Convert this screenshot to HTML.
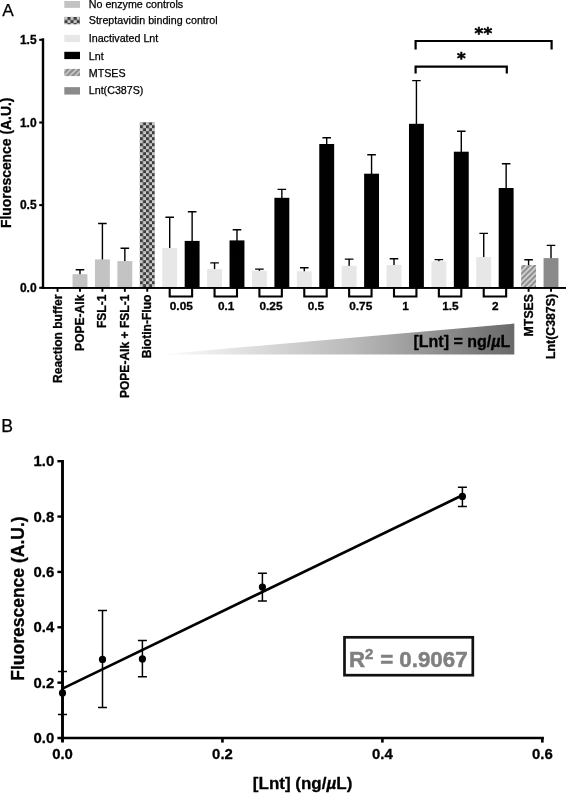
<!DOCTYPE html>
<html lang="en"><head><meta charset="utf-8"><title>Figure</title>
<style>
html,body{margin:0;padding:0;background:#fff;}
body{width:566px;height:794px;overflow:hidden;}
svg{display:block;font-family:"Liberation Sans", Arial, Helvetica, sans-serif;will-change:transform;opacity:0.999;}
.b{font-weight:bold;stroke:#000;stroke-width:0.3px;}
.g{stroke:#808080;stroke-width:0.5px;}
.r{stroke:#000;stroke-width:0.25px;}
</style></head><body>
<svg width="566" height="794" viewBox="0 0 566 794">
<defs>
<pattern id="chk" patternUnits="userSpaceOnUse" x="139.9" y="122.2" width="6.08" height="6">
<rect width="6.08" height="6" fill="#c9c9c9"/>
<rect x="3.04" y="0" width="3.04" height="3" fill="#3c3c3c"/>
<rect x="0" y="3" width="3.04" height="3" fill="#3c3c3c"/>
</pattern>
<pattern id="chk2" patternUnits="userSpaceOnUse" x="64.3" y="16.9" width="6.2" height="6.2">
<rect width="6.2" height="6.2" fill="#c9c9c9"/>
<rect x="3.1" y="0" width="3.1" height="3.1" fill="#3c3c3c"/>
<rect x="0" y="3.1" width="3.1" height="3.1" fill="#3c3c3c"/>
</pattern>
<pattern id="hat" patternUnits="userSpaceOnUse" x="520.9" y="266.1" width="5.4" height="5.4">
<rect width="5.4" height="5.4" fill="#8e8e8e"/>
<path d="M-1.35,1.35 L1.35,-1.35 M0,5.4 L5.4,0 M4.05,6.75 L6.75,4.05" stroke="#dcdcdc" stroke-width="1.5"/>
</pattern>
<pattern id="hat2" patternUnits="userSpaceOnUse" x="65.6" y="69" width="5.5" height="5.5">
<rect width="5.5" height="5.5" fill="#8e8e8e"/>
<path d="M-1.375,1.375 L1.375,-1.375 M0,5.5 L5.5,0 M4.125,6.875 L6.875,4.125" stroke="#dcdcdc" stroke-width="1.2"/>
</pattern>
<linearGradient id="wg" x1="0" y1="0" x2="1" y2="0">
<stop offset="0" stop-color="#ffffff"/>
<stop offset="0.55" stop-color="#b9b9b9"/>
<stop offset="1" stop-color="#696969"/>
</linearGradient>
</defs>
<rect width="566" height="794" fill="#fff"/>

<text class="r" x="2.25" y="15.55" font-size="17.3">A</text>
<rect x="64.3" y="1.0" width="15.7" height="6.85" fill="#c3c3c3"/>
<text class="r" x="88.75" y="8.0" font-size="10.7">No enzyme controls</text>
<rect x="64.3" y="16.9" width="15.7" height="7.4" fill="url(#chk2)"/>
<text class="r" x="88.75" y="24.2" font-size="10.7">Streptavidin binding control</text>
<rect x="64.3" y="34.9" width="15.7" height="7.2" fill="#e7e7e7"/>
<text class="r" x="88.75" y="42.0" font-size="10.7">Inactivated Lnt</text>
<rect x="64.3" y="51.8" width="15.7" height="7.3" fill="#000"/>
<text class="r" x="88.75" y="59.5" font-size="10.7">Lnt</text>
<rect x="64.3" y="68.9" width="15.7" height="7.2" fill="url(#hat2)"/>
<text class="r" x="88.75" y="76.5" font-size="10.7">MTSES</text>
<rect x="64.3" y="87.15" width="15.7" height="7.4" fill="#8a8a8a"/>
<text class="r" x="88.75" y="93.9" font-size="10.7">Lnt(C387S)</text>
<path d="M43.0,38.3 V288.82000000000005" stroke="#000" stroke-width="2.4" fill="none"/>
<path d="M43.0,287.85 H566" stroke="#000" stroke-width="1.95" fill="none"/>
<path d="M39.2,39.8 H43.0" stroke="#000" stroke-width="2.1"/>
<text class="b" x="36.6" y="43.85" font-size="12" text-anchor="end">1.5</text>
<path d="M39.2,122.5 H43.0" stroke="#000" stroke-width="2.1"/>
<text class="b" x="36.6" y="126.55" font-size="12" text-anchor="end">1.0</text>
<path d="M39.2,205.1 H43.0" stroke="#000" stroke-width="2.1"/>
<text class="b" x="36.6" y="209.15" font-size="12" text-anchor="end">0.5</text>
<path d="M39.2,287.8 H43.0" stroke="#000" stroke-width="2.1"/>
<text class="b" x="36.6" y="291.85" font-size="12" text-anchor="end">0.0</text>
<text class="b" transform="translate(10.5,162.8) rotate(-90)" font-size="13.9" text-anchor="middle">Fluorescence (A.U.)</text>
<path d="M79.98,274.7 V269.7 M75.68,269.7 H84.28" stroke="#000" stroke-width="1.4" fill="none"/>
<rect x="72.53" y="274.2" width="14.9" height="13.65" fill="#c3c3c3"/>
<path d="M102.41,259.9 V223.5 M98.11,223.5 H106.71" stroke="#000" stroke-width="1.4" fill="none"/>
<rect x="94.96" y="259.4" width="14.9" height="28.45" fill="#c3c3c3"/>
<path d="M124.84,261.6 V248.2 M120.54,248.2 H129.14" stroke="#000" stroke-width="1.4" fill="none"/>
<rect x="117.39" y="261.1" width="14.9" height="26.75" fill="#c3c3c3"/>
<rect x="139.82" y="122.2" width="14.9" height="165.65" fill="url(#chk)"/>
<path d="M169.70,248.5 V217.2 M165.40,217.2 H174.00" stroke="#000" stroke-width="1.4" fill="none"/>
<rect x="162.25" y="248" width="14.9" height="39.85" fill="#e7e7e7"/>
<path d="M192.13,241.4 V211.7 M187.83,211.7 H196.43" stroke="#000" stroke-width="1.4" fill="none"/>
<rect x="184.68" y="240.9" width="14.9" height="46.95" fill="#000"/>
<path d="M214.56,269.6 V262.9 M210.26,262.9 H218.86" stroke="#000" stroke-width="1.4" fill="none"/>
<rect x="207.11" y="269.1" width="14.9" height="18.75" fill="#e7e7e7"/>
<path d="M236.99,240.9 V229.7 M232.69,229.7 H241.29" stroke="#000" stroke-width="1.4" fill="none"/>
<rect x="229.54" y="240.4" width="14.9" height="47.45" fill="#000"/>
<path d="M259.42,271.3 V269.1 M255.12,269.1 H263.72" stroke="#000" stroke-width="1.4" fill="none"/>
<rect x="251.97" y="270.8" width="14.9" height="17.05" fill="#e7e7e7"/>
<path d="M281.85,198.3 V189.4 M277.55,189.4 H286.15" stroke="#000" stroke-width="1.4" fill="none"/>
<rect x="274.40" y="197.8" width="14.9" height="90.05" fill="#000"/>
<path d="M304.28,271.8 V267.8 M299.98,267.8 H308.58" stroke="#000" stroke-width="1.4" fill="none"/>
<rect x="296.83" y="271.3" width="14.9" height="16.55" fill="#e7e7e7"/>
<path d="M326.71,144.5 V137.8 M322.41,137.8 H331.01" stroke="#000" stroke-width="1.4" fill="none"/>
<rect x="319.26" y="144" width="14.9" height="143.85" fill="#000"/>
<path d="M349.14,266.3 V259.1 M344.84,259.1 H353.44" stroke="#000" stroke-width="1.4" fill="none"/>
<rect x="341.69" y="265.8" width="14.9" height="22.05" fill="#e7e7e7"/>
<path d="M371.57,174.2 V154.7 M367.27,154.7 H375.87" stroke="#000" stroke-width="1.4" fill="none"/>
<rect x="364.12" y="173.7" width="14.9" height="114.15" fill="#000"/>
<path d="M394.00,265.5 V258.8 M389.70,258.8 H398.30" stroke="#000" stroke-width="1.4" fill="none"/>
<rect x="386.55" y="265" width="14.9" height="22.85" fill="#e7e7e7"/>
<path d="M416.43,124.3 V80.6 M412.13,80.6 H420.73" stroke="#000" stroke-width="1.4" fill="none"/>
<rect x="408.98" y="123.8" width="14.9" height="164.05" fill="#000"/>
<path d="M438.86,261.8 V259.6 M434.56,259.6 H443.16" stroke="#000" stroke-width="1.4" fill="none"/>
<rect x="431.41" y="261.3" width="14.9" height="26.55" fill="#e7e7e7"/>
<path d="M461.29,152.2 V131.2 M456.99,131.2 H465.59" stroke="#000" stroke-width="1.4" fill="none"/>
<rect x="453.84" y="151.7" width="14.9" height="136.15" fill="#000"/>
<path d="M483.72,257.6 V233.4 M479.42,233.4 H488.02" stroke="#000" stroke-width="1.4" fill="none"/>
<rect x="476.27" y="257.1" width="14.9" height="30.75" fill="#e7e7e7"/>
<path d="M506.15,188.5 V163.8 M501.85,163.8 H510.45" stroke="#000" stroke-width="1.4" fill="none"/>
<rect x="498.70" y="188" width="14.9" height="99.85" fill="#000"/>
<path d="M528.58,265.5 V259.8 M524.28,259.8 H532.88" stroke="#000" stroke-width="1.4" fill="none"/>
<rect x="521.13" y="265" width="14.9" height="22.85" fill="url(#hat)"/>
<path d="M551.01,258.6 V245.4 M546.71,245.4 H555.31" stroke="#000" stroke-width="1.4" fill="none"/>
<rect x="543.56" y="258.1" width="14.9" height="29.75" fill="#8a8a8a"/>
<path d="M41.8,287.85 H566" stroke="#000" stroke-width="1.95" fill="none"/>
<path d="M57.55,287.85 V291.8" stroke="#000" stroke-width="1.9"/>
<text class="b" transform="translate(61.55,294.65) rotate(-90)" font-size="12.05" text-anchor="end">Reaction buffer</text>
<path d="M79.98,287.85 V291.8" stroke="#000" stroke-width="1.9"/>
<text class="b" transform="translate(83.98,294.65) rotate(-90)" font-size="12.05" text-anchor="end">POPE-Alk</text>
<path d="M102.41,287.85 V291.8" stroke="#000" stroke-width="1.9"/>
<text class="b" transform="translate(106.41,294.65) rotate(-90)" font-size="12.05" text-anchor="end">FSL-1</text>
<path d="M124.84,287.85 V291.8" stroke="#000" stroke-width="1.9"/>
<text class="b" transform="translate(128.84,294.65) rotate(-90)" font-size="12.05" text-anchor="end">POPE-Alk + FSL-1</text>
<path d="M147.27,287.85 V291.8" stroke="#000" stroke-width="1.9"/>
<text class="b" transform="translate(151.27,294.65) rotate(-90)" font-size="12.05" text-anchor="end">Biotin-Fluo</text>
<path d="M528.58,287.85 V291.8" stroke="#000" stroke-width="1.9"/>
<text class="b" transform="translate(532.58,294.0) rotate(-90)" font-size="12.3" text-anchor="end">MTSES</text>
<path d="M551.01,287.85 V291.8" stroke="#000" stroke-width="1.9"/>
<text class="b" transform="translate(555.01,294.0) rotate(-90)" font-size="12.3" text-anchor="end">Lnt(C387S)</text>
<path d="M169.70,287.85 V296.5 H192.13 V287.85" stroke="#000" stroke-width="2.1" fill="none"/>
<text class="b" x="181.31" y="309.5" font-size="11.8" text-anchor="middle">0.05</text>
<path d="M214.56,287.85 V296.5 H236.99 V287.85" stroke="#000" stroke-width="2.1" fill="none"/>
<text class="b" x="226.17" y="309.5" font-size="11.8" text-anchor="middle">0.1</text>
<path d="M259.42,287.85 V296.5 H281.85 V287.85" stroke="#000" stroke-width="2.1" fill="none"/>
<text class="b" x="271.03" y="309.5" font-size="11.8" text-anchor="middle">0.25</text>
<path d="M304.28,287.85 V296.5 H326.71 V287.85" stroke="#000" stroke-width="2.1" fill="none"/>
<text class="b" x="315.89" y="309.5" font-size="11.8" text-anchor="middle">0.5</text>
<path d="M349.14,287.85 V296.5 H371.57 V287.85" stroke="#000" stroke-width="2.1" fill="none"/>
<text class="b" x="360.75" y="309.5" font-size="11.8" text-anchor="middle">0.75</text>
<path d="M394.00,287.85 V296.5 H416.43 V287.85" stroke="#000" stroke-width="2.1" fill="none"/>
<text class="b" x="405.62" y="309.5" font-size="11.8" text-anchor="middle">1</text>
<path d="M438.86,287.85 V296.5 H461.29 V287.85" stroke="#000" stroke-width="2.1" fill="none"/>
<text class="b" x="450.48" y="309.5" font-size="11.8" text-anchor="middle">1.5</text>
<path d="M483.72,287.85 V296.5 H506.15 V287.85" stroke="#000" stroke-width="2.1" fill="none"/>
<text class="b" x="495.34" y="309.5" font-size="11.8" text-anchor="middle">2</text>
<path d="M158,354.5 L514.3,323.6 L514.3,354.5 Z" fill="url(#wg)"/>
<text class="b" x="510.2" y="347.3" font-size="16" text-anchor="end">[Lnt] = ng/<tspan font-style="italic">µ</tspan>L</text>
<path d="M415.6,49.5 V41 H551.6 V49.5" stroke="#000" stroke-width="2.2" fill="none"/>
<path d="M415.6,73.5 V66.6 H506.8 V73.5" stroke="#000" stroke-width="2.2" fill="none"/>
<text class="b" x="483.5" y="39.4" font-size="16.6" text-anchor="middle" font-family="DejaVu Sans, sans-serif" style="stroke-width:0.6px" letter-spacing="0.2">**</text>
<text class="b" x="461.4" y="64.0" font-size="16.6" text-anchor="middle" font-family="DejaVu Sans, sans-serif" style="stroke-width:0.6px">*</text>
<text class="r" x="1.3" y="431.7" font-size="17.6">B</text>
<path d="M62.5,459.9 V742.6" stroke="#000" stroke-width="2.9" fill="none"/>
<path d="M57.4,738.0 H543.9" stroke="#000" stroke-width="2.6" fill="none"/>
<path d="M57.4,461.20 H62.5" stroke="#000" stroke-width="2.4"/>
<text class="b" x="54.2" y="466.20" font-size="14.9" text-anchor="end">1.0</text>
<path d="M57.4,516.56 H62.5" stroke="#000" stroke-width="2.4"/>
<text class="b" x="54.2" y="521.56" font-size="14.9" text-anchor="end">0.8</text>
<path d="M57.4,571.92 H62.5" stroke="#000" stroke-width="2.4"/>
<text class="b" x="54.2" y="576.92" font-size="14.9" text-anchor="end">0.6</text>
<path d="M57.4,627.28 H62.5" stroke="#000" stroke-width="2.4"/>
<text class="b" x="54.2" y="632.28" font-size="14.9" text-anchor="end">0.4</text>
<path d="M57.4,682.64 H62.5" stroke="#000" stroke-width="2.4"/>
<text class="b" x="54.2" y="687.64" font-size="14.9" text-anchor="end">0.2</text>
<text class="b" x="54.2" y="743.00" font-size="14.9" text-anchor="end">0.0</text>
<text class="b" x="62.50" y="759.2" font-size="14.9" text-anchor="middle">0.0</text>
<path d="M222.45,738.0 V742.6" stroke="#000" stroke-width="2.6"/>
<text class="b" x="222.45" y="759.2" font-size="14.9" text-anchor="middle">0.2</text>
<path d="M382.40,738.0 V742.6" stroke="#000" stroke-width="2.6"/>
<text class="b" x="382.40" y="759.2" font-size="14.9" text-anchor="middle">0.4</text>
<path d="M542.35,738.0 V742.6" stroke="#000" stroke-width="2.6"/>
<text class="b" x="542.35" y="759.2" font-size="14.9" text-anchor="middle">0.6</text>
<text class="b" transform="translate(23.6,598.6) rotate(-90)" font-size="17.5" text-anchor="middle">Fluorescence (A.U.)</text>
<text class="b" x="302.6" y="789" font-size="17" text-anchor="middle">[Lnt] (ng/<tspan font-style="italic">µ</tspan>L)</text>
<path d="M62.5,688.6 L462.4,495.3" stroke="#000" stroke-width="2.7" fill="none"/>
<path d="M62.5,671.4 V714.6 M58.0,671.4 H67.0 M58.0,714.6 H67.0" stroke="#000" stroke-width="1.5" fill="none"/>
<circle cx="62.5" cy="692.9" r="3.6" fill="#000"/>
<path d="M102.5,610.4 V707.4 M98.0,610.4 H107.0 M98.0,707.4 H107.0" stroke="#000" stroke-width="1.5" fill="none"/>
<circle cx="102.5" cy="659.4" r="3.6" fill="#000"/>
<path d="M142.4,640.4 V676.7 M137.9,640.4 H146.9 M137.9,676.7 H146.9" stroke="#000" stroke-width="1.5" fill="none"/>
<circle cx="142.4" cy="658.9" r="3.6" fill="#000"/>
<path d="M262.4,573.3 V600.9 M257.9,573.3 H266.9 M257.9,600.9 H266.9" stroke="#000" stroke-width="1.5" fill="none"/>
<circle cx="262.4" cy="587.1" r="3.6" fill="#000"/>
<path d="M462.4,487.2 V506.6 M457.9,487.2 H466.9 M457.9,506.6 H466.9" stroke="#000" stroke-width="1.5" fill="none"/>
<circle cx="462.4" cy="496.4" r="3.6" fill="#000"/>
<rect x="344.5" y="637.3" width="128.3" height="37.9" fill="#fff" stroke="#111" stroke-width="2.7"/>
<text class="b g" x="349.0" y="666.5" font-size="22.3" fill="#808080">R<tspan font-size="15" dy="-7.9">2</tspan><tspan dy="8.1" dx="0.5"> = 0.9067</tspan></text>
</svg></body></html>
